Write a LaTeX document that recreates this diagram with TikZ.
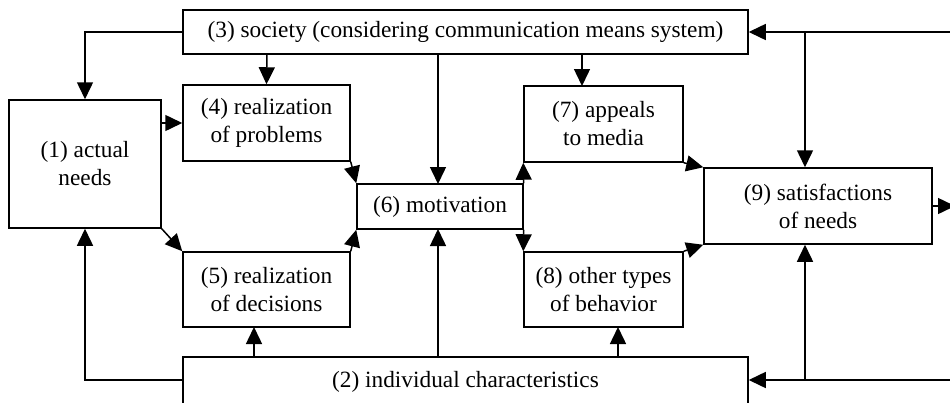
\documentclass[tikz,border=0pt]{standalone}
\usepackage{fontspec}
\setmainfont{Liberation Serif}
\usetikzlibrary{arrows.meta}
\begin{document}
\begin{tikzpicture}[x=1pt,y=-1pt,
  box/.style={draw, line width=1.5pt, inner sep=0pt, align=center, font=\fontsize{23.3}{28}\selectfont, fill=white},
  arr/.style={line width=1.5pt, -{Triangle[length=17pt,width=16pt]}},
  ln/.style={line width=1.5pt}]
\fill[white] (0,0) rectangle (950,402);
\clip (0,0) rectangle (950,402);
\useasboundingbox (0,0) rectangle (950,402);
% boxes
\node[box, minimum width=565pt, minimum height=44pt] (B3) at (465.5,32) {(3) society (considering communication means system)};
\node[box, minimum width=152pt, minimum height=128pt] (B1) at (85,164) {(1) actual\\needs};
\node[box, minimum width=167pt, minimum height=76pt] (B4) at (266.5,123) {(4) realization\\of problems};
\node[box, minimum width=167pt, minimum height=75pt] (B5) at (266.5,289.5) {(5) realization\\of decisions};
\node[box, minimum width=166pt, minimum height=45pt] (B6) at (440,206.5) {(6) motivation};
\node[box, minimum width=159pt, minimum height=76pt] (B7) at (603.5,124) {(7) appeals\\to media};
\node[box, minimum width=159pt, minimum height=75pt] (B8) at (603.5,289.5) {(8) other types\\of behavior};
\node[box, minimum width=228pt, minimum height=76pt] (B9) at (818,206) {(9) satisfactions\\of needs};
\node[box, minimum width=565pt, minimum height=50pt] (B2) at (465.5,382) {(2) individual characteristics};
% free ends
\coordinate (rtop) at (955,32);
\coordinate (rbot) at (955,380);
\coordinate (rout) at (955,206);
\coordinate (jtop) at (805,32);
\coordinate (jbot) at (805,380);
% society connectors
\draw[arr] (B3.west) -| (B1.north);
\draw[arr] (267,54) -- (B4.north);
\draw[arr] (438,54) -- (438,184);
\draw[arr] (582,54) -- (582,86);
\draw[arr] (rtop) -- (B3.east);
\draw[arr] (jtop) -- (B9.north -| jtop);
% individual characteristics connectors
\draw[arr] (B2.west |- jbot) -| (B1.south);
\draw[arr] (254,357) -- (254,327);
\draw[arr] (438,357) -- (438,229);
\draw[arr] (618,357) -- (618,327);
\draw[arr] (rbot) -- (B2.east |- rbot);
\draw[arr] (jbot) -- (B9.south -| jbot);
% flow
\draw[arr] (B1.east |- B4.west) -- (B4.west);
\draw[arr] (B1.south east) -- (B5.north west);
\draw[arr] (B4.south east) -- (B6.north west);
\draw[arr] (B5.north east) -- (B6.south west);
\draw[arr] (B6.north east) -- (B7.south west);
\draw[arr] (B6.south east) -- (B8.north west);
\draw[arr] (B7.south east) -- (B9.north west);
\draw[arr] (B8.north east) -- (B9.south west);
\draw[arr] (B9.east) -- (rout);
\end{tikzpicture}
\end{document}
